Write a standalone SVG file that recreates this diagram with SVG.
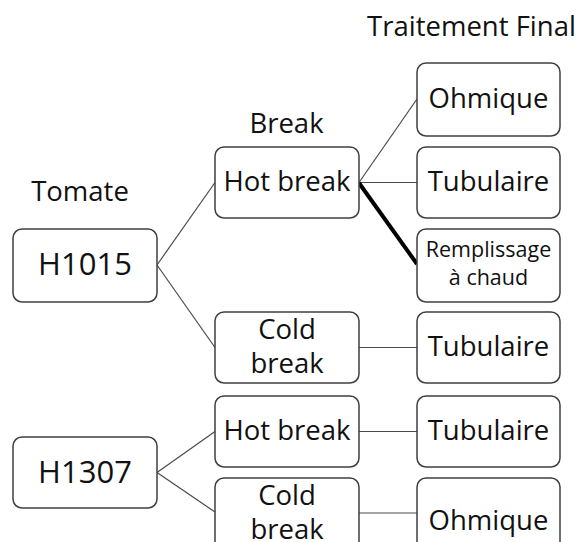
<svg xmlns="http://www.w3.org/2000/svg" width="579" height="542" viewBox="0 0 579 542">
<style>
  .box { fill: #ffffff; stroke: #3f3f3f; stroke-width: 1.5; }
  .t { font-family: "Open Sans", "Noto Sans", "Liberation Sans", sans-serif; fill: #111111; text-anchor: middle; }
  .big { font-size: 31px; }
  .mid { font-size: 27.5px; }
  .hdr { font-size: 27.5px; }
  .sm { font-size: 21.5px; }
  .ln { stroke: #4a4a4a; stroke-width: 1.2; fill: none; }
  .thick { stroke: #000000; stroke-width: 4; fill: none; }
</style>
<rect width="579" height="542" fill="#ffffff"/>

<g id="headers">
  <text class="t hdr" x="80" y="201">Tomate</text>
  <text class="t hdr" x="286.5" y="133">Break</text>
  <text class="t hdr" x="471.5" y="36">Traitement Final</text>
</g>

<g id="connectors">
  <line class="ln" x1="157" y1="265" x2="215" y2="182.5"/>
  <line class="ln" x1="157" y1="265" x2="215" y2="347.5"/>
  <line class="ln" x1="359" y1="182.5" x2="417" y2="99"/>
  <line class="ln" x1="359" y1="182.5" x2="417" y2="182.5"/>
  <line class="thick" x1="359" y1="183" x2="417" y2="264"/>
  <line class="ln" x1="359" y1="347.5" x2="417" y2="347.5"/>
  <line class="ln" x1="157" y1="472.5" x2="215" y2="431.5"/>
  <line class="ln" x1="157" y1="472.5" x2="215" y2="512"/>
  <line class="ln" x1="359" y1="431.5" x2="417" y2="431.5"/>
  <line class="ln" x1="359" y1="513" x2="417" y2="513"/>
</g>

<g id="n-h1015">
  <rect class="box" x="13" y="229" width="144" height="73" rx="9"/>
  <text class="t big" x="85" y="275">H1015</text>
</g>
<g id="n-h1307">
  <rect class="box" x="13" y="437" width="144" height="71" rx="9"/>
  <text class="t big" x="85" y="483">H1307</text>
</g>

<g id="n-hot1">
  <rect class="box" x="215" y="147" width="144" height="71" rx="9"/>
  <text class="t mid" x="287" y="191">Hot break</text>
</g>
<g id="n-cold1">
  <rect class="box" x="215" y="312" width="144" height="71" rx="9"/>
  <text class="t mid" x="287" y="339">Cold</text>
  <text class="t mid" x="287" y="373">break</text>
</g>
<g id="n-hot2">
  <rect class="box" x="215" y="396" width="144" height="71" rx="9"/>
  <text class="t mid" x="287" y="440">Hot break</text>
</g>
<g id="n-cold2">
  <rect class="box" x="215" y="478" width="144" height="80" rx="9"/>
  <text class="t mid" x="287" y="505">Cold</text>
  <text class="t mid" x="287" y="539">break</text>
</g>

<g id="n-ohmique1">
  <rect class="box" x="417" y="63" width="143" height="73" rx="9"/>
  <text class="t mid" x="488.5" y="108">Ohmique</text>
</g>
<g id="n-tubulaire1">
  <rect class="box" x="417" y="147" width="143" height="71" rx="9"/>
  <text class="t mid" x="488.5" y="191">Tubulaire</text>
</g>
<g id="n-remplissage">
  <rect class="box" x="417" y="229" width="143" height="73" rx="9"/>
  <text class="t sm" x="488.5" y="257">Remplissage</text>
  <text class="t sm" x="488.5" y="285">à chaud</text>
</g>
<g id="n-tubulaire2">
  <rect class="box" x="417" y="312" width="143" height="71" rx="9"/>
  <text class="t mid" x="488.5" y="356">Tubulaire</text>
</g>
<g id="n-tubulaire3">
  <rect class="box" x="417" y="396" width="143" height="71" rx="9"/>
  <text class="t mid" x="488.5" y="440">Tubulaire</text>
</g>
<g id="n-ohmique2">
  <rect class="box" x="417" y="478" width="143" height="80" rx="9"/>
  <text class="t mid" x="488.5" y="530">Ohmique</text>
</g>
</svg>
